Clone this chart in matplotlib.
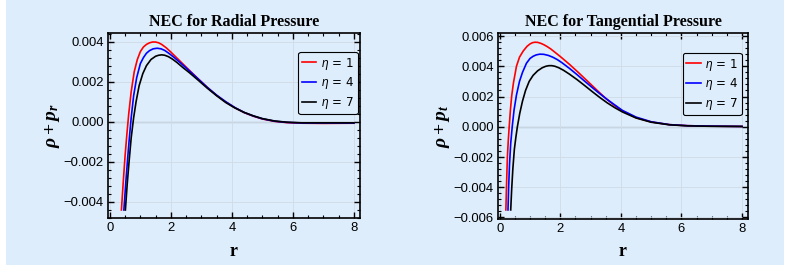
import numpy as np
import matplotlib
matplotlib.use('Agg')
import matplotlib.pyplot as plt
from matplotlib.patches import Rectangle
from matplotlib.ticker import MultipleLocator, AutoMinorLocator

plt.rcParams['mathtext.fontset'] = 'custom'
plt.rcParams['mathtext.it'] = 'Liberation Serif:bold:italic'
plt.rcParams['mathtext.rm'] = 'Liberation Serif:bold'
plt.rcParams['mathtext.sf'] = 'Liberation Sans:italic'

# NEC radial pressure: rho + p_r
r_rad_1 = [0.38, 0.44, 0.50, 0.56, 0.62, 0.70, 0.80, 0.90, 1.00, 1.10, 1.20, 1.30, 1.40, 1.50, 1.60,
           1.70, 1.85, 2.00, 2.30, 2.60, 2.90, 3.20, 3.50, 3.80, 4.10, 4.40, 4.70, 5.00, 5.40, 5.80,
           6.30, 7.00, 8.00]
nec_rad_1 = [-0.0044, -0.0030, -0.0017, -0.0006, 0.0004, 0.0015, 0.0025, 0.0031, 0.0035, 0.00373,
             0.00386, 0.00394, 0.00398, 0.00398, 0.00394, 0.00386, 0.00369, 0.00348, 0.00303, 0.00258,
             0.00214, 0.00171, 0.00132, 0.00099, 0.0007, 0.00046, 0.00028, 0.00014, 0.00002, -0.00004,
             -0.00007, -0.00008, -0.00007]
r_rad_4 = [0.46, 0.52, 0.58, 0.64, 0.70, 0.78, 0.88, 1.00, 1.10, 1.20, 1.30, 1.42, 1.55, 1.68, 1.80,
           1.95, 2.10, 2.30, 2.60, 2.90, 3.20, 3.50, 3.80, 4.10, 4.40, 4.70, 5.00, 5.40, 5.80, 6.30,
           7.00, 8.00]
nec_rad_4 = [-0.0044, -0.0031, -0.0019, -0.0008, 0.0002, 0.0013, 0.0022, 0.0029, 0.0032, 0.00342,
             0.00355, 0.00364, 0.00367, 0.00364, 0.00356, 0.0034, 0.00322, 0.00296, 0.00255, 0.00213,
             0.00171, 0.00133, 0.001, 0.00071, 0.00047, 0.00029, 0.00015, 0.00003, -0.00003, -0.00006,
             -0.00006, -0.00006]
r_rad_7 = [0.51, 0.57, 0.63, 0.70, 0.78, 0.86, 0.96, 1.08, 1.20, 1.35, 1.50, 1.60, 1.70, 1.80, 1.92,
           2.05, 2.20, 2.40, 2.60, 2.90, 3.20, 3.50, 3.80, 4.10, 4.40, 4.70, 5.00, 5.40, 5.80, 6.30,
           7.00, 8.00]
nec_rad_7 = [-0.0044, -0.0031, -0.0020, -0.0008, 0.0002, 0.0010, 0.0018, 0.0024, 0.0028, 0.00311,
             0.00327, 0.00332, 0.00334, 0.00332, 0.00325, 0.00313, 0.00296, 0.0027, 0.00246, 0.00207,
             0.00167, 0.0013, 0.00096, 0.00069, 0.00047, 0.0003, 0.00016, 0.00004, -0.00002, -0.00005,
             -0.00005, -0.00005]

# NEC tangential pressure: rho + p_t
r_tan_1 = [0.20, 0.22, 0.25, 0.28, 0.31, 0.35, 0.39, 0.45, 0.55, 0.65, 0.77, 0.90, 1.00, 1.08, 1.16,
           1.25, 1.35, 1.45, 1.55, 1.68, 1.80, 2.00, 2.30, 2.60, 2.80, 3.00, 3.25, 3.50, 3.75, 4.00,
           4.50, 5.00, 5.60, 6.20, 7.00, 8.00]
nec_tan_1 = [-0.0055, -0.0040, -0.0020, -0.0009, 0.0000, 0.0011, 0.0020, 0.0029, 0.0040, 0.0046,
             0.0050, 0.00532, 0.00548, 0.00556, 0.00559, 0.00558, 0.00552, 0.00543, 0.00532, 0.00515,
             0.00496, 0.00464, 0.00413, 0.00358, 0.0032, 0.00282, 0.00234, 0.00188, 0.00147, 0.00111,
             0.0006, 0.00032, 0.00014, 0.00007, 0.00004, 0.00002]
r_tan_4 = [0.27, 0.29, 0.32, 0.36, 0.41, 0.47, 0.55, 0.65, 0.75, 0.88, 1.00, 1.10, 1.20, 1.32, 1.45,
           1.60, 1.75, 1.90, 2.05, 2.30, 2.55, 2.80, 3.05, 3.30, 3.55, 3.80, 4.05, 4.50, 5.00, 5.60,
           6.20, 7.00, 8.00]
nec_tan_4 = [-0.0055, -0.0041, -0.0025, -0.0011, 0.0000, 0.0011, 0.0021, 0.0030, 0.0036, 0.0042,
             0.00452, 0.00466, 0.00475, 0.0048, 0.00479, 0.00472, 0.0046, 0.00444, 0.00424, 0.00386,
             0.00345, 0.00302, 0.0026, 0.00219, 0.0018, 0.00144, 0.00108, 0.00064, 0.00033, 0.00014,
             0.00007, 0.00004, 0.00002]
r_tan_7 = [0.36, 0.39, 0.43, 0.48, 0.53, 0.58, 0.66, 0.75, 0.85, 0.97, 1.10, 1.25, 1.40, 1.52, 1.62,
           1.72, 1.82, 1.95, 2.10, 2.30, 2.55, 2.80, 3.05, 3.30, 3.55, 3.80, 4.05, 4.50, 5.00, 5.60,
           6.20, 7.00, 8.00]
nec_tan_7 = [-0.0055, -0.0042, -0.0028, -0.0015, -0.0007, 0.0000, 0.0009, 0.0017, 0.0024, 0.0030,
             0.0034, 0.0037, 0.0039, 0.0040, 0.00404, 0.00404, 0.0040, 0.0039, 0.00374, 0.00348,
             0.00312, 0.00273, 0.00233, 0.00194, 0.00158, 0.00126, 0.00098, 0.00058, 0.0003, 0.00013,
             0.00006, 0.00003, 0.00002]

labels = [r'$\mathsf{\eta}$ = 1', r'$\mathsf{\eta}$ = 4', r'$\mathsf{\eta}$ = 7']
colors = ['#ff0000', '#0000ff', '#000000']
bg = '#ddedfc'

fig = plt.figure(figsize=(7.9, 2.73), dpi=100, facecolor='white')
fig.patches.append(Rectangle((6/790, 8/273), 778/790, 265/273, transform=fig.transFigure,
                             facecolor=bg, edgecolor='none', zorder=-10))

ax1 = fig.add_axes([108/790, 55/273, 252/790, 185/273])
ax2 = fig.add_axes([498/790, 54/273, 250/790, 186/273])

panels = [
    (ax1, [(r_rad_1, nec_rad_1), (r_rad_4, nec_rad_4), (r_rad_7, nec_rad_7)],
     'NEC for Radial Pressure', r'$\rho + p_r$', (-0.0048, 0.00443), (1.0, 0.91)),
    (ax2, [(r_tan_1, nec_tan_1), (r_tan_4, nec_tan_4), (r_tan_7, nec_tan_7)],
     'NEC for Tangential Pressure', r'$\rho + p_t$', (-0.0061, 0.0062), (0.985, 0.905)),
]

fmt = plt.FuncFormatter(lambda v, p: ('%.3f' % v).replace('-', '\u2212') if abs(v) > 1e-9 else '0.000')

for ax, series, title, ylab, ylim, anchor in panels:
    ax.set_facecolor(bg)
    ax.axhline(0, color='#b0bcc8', lw=1.0, zorder=1)
    for (x, y), c, lab in zip(series, colors, labels):
        ax.plot(x, y, color=c, lw=1.2, label=lab, zorder=3)
    ax.set_xlim(-0.06, 8.2)
    ax.set_ylim(*ylim)
    ax.xaxis.set_major_locator(MultipleLocator(2))
    ax.xaxis.set_minor_locator(AutoMinorLocator(4))
    ax.yaxis.set_major_locator(MultipleLocator(0.002))
    ax.yaxis.set_minor_locator(AutoMinorLocator(5))
    ax.yaxis.set_major_formatter(fmt)
    ax.grid(True, which='major', color='#cfdbe6', lw=0.6, zorder=0)
    ax.tick_params(which='both', direction='in', top=True, right=True, colors='black')
    ax.tick_params(which='major', length=4, width=1.0, labelsize=9.4, pad=3)
    ax.tick_params(which='minor', length=2, width=0.8)
    for lab in ax.get_xticklabels() + ax.get_yticklabels():
        lab.set_fontfamily('Liberation Sans')
    for s in ax.spines.values():
        s.set_linewidth(1.2)
    ax.set_title(title, fontfamily='Liberation Serif', fontweight='bold', fontsize=11.5, pad=5)
    ax.set_xlabel('r', fontfamily='Liberation Serif', fontweight='bold', fontsize=13, labelpad=6)
    ax.set_ylabel(ylab, fontsize=14, labelpad=1)
    leg = ax.legend(loc='upper right', bbox_to_anchor=anchor, fontsize=8.6, frameon=True,
                    fancybox=True, facecolor=bg, edgecolor='black', framealpha=1,
                    handlelength=1.2, handletextpad=0.4, labelspacing=0.3, borderpad=0.3,
                    borderaxespad=0.2)
    leg.get_frame().set_linewidth(0.8)

fig.savefig('out.png', dpi=100, facecolor='white')
